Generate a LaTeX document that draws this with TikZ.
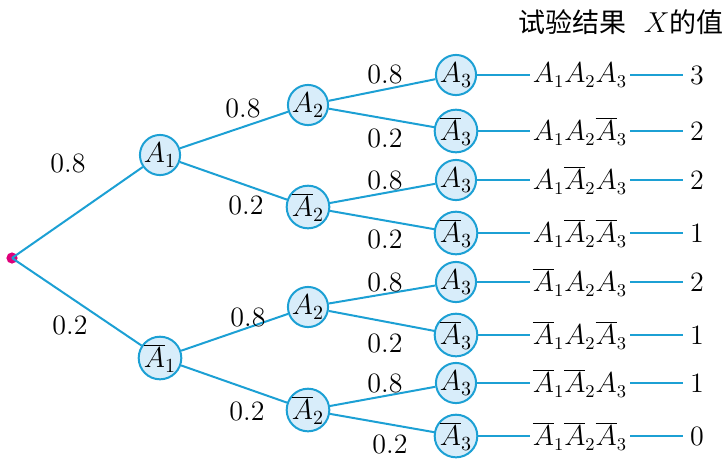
\documentclass[tikz,border=0pt]{standalone}
\usepackage{fontspec}
\newfontfamily\cjk{Noto Sans CJK SC}
\usepackage{tikz}
\usetikzlibrary{positioning}
\definecolor{treeblue}{RGB}{28,160,212}
\definecolor{nodefill}{RGB}{216,237,250}
\definecolor{rootdot}{RGB}{222,0,122}
\newcommand{\nA}[1]{\overline{A}_{#1}}

\begin{document}
\begin{tikzpicture}[
  x=0.5pt, y=-0.5pt,
  ev/.style={circle, draw=treeblue, fill=nodefill, line width=1pt,
             minimum size=20pt, inner sep=0pt, font=\fontsize{14}{16}\selectfont},
  br/.style={treeblue, line width=1pt},
  prob/.style={font=\fontsize{14}{16}\selectfont, inner sep=0pt},
  res/.style={inner xsep=1.5pt, font=\fontsize{13.5}{16}\selectfont},
  val/.style={font=\fontsize{14}{16}\selectfont},
  head/.style={font=\fontsize{13.5}{16}\selectfont}
]
\useasboundingbox (0,0) rectangle (726,462);

% root and events
\coordinate (r) at (12,258);
\fill[rootdot] (r) circle (2.8pt);
\node[ev] (a1) at (160,155) {$A_1$};
\node[ev] (b1) at (160,358) {$\nA1$};

\node[ev] (a1a2) at (308,105) {$A_2$};
\node[ev] (a1b2) at (308,207) {$\nA2$};
\node[ev] (b1a2) at (308,307) {$A_2$};
\node[ev] (b1b2) at (308,410) {$\nA2$};

\node[ev] (l1) at (456,75)  {$A_3$};
\node[ev] (l2) at (456,131) {$\nA3$};
\node[ev] (l3) at (456,180) {$A_3$};
\node[ev] (l4) at (456,233) {$\nA3$};
\node[ev] (l5) at (456,282) {$A_3$};
\node[ev] (l6) at (456,335) {$\nA3$};
\node[ev] (l7) at (456,383) {$A_3$};
\node[ev] (l8) at (456,436) {$\nA3$};

% branches
\draw[br] (r) -- (a1);
\draw[br] (r) -- (b1);
\draw[br] (a1) -- (a1a2);
\draw[br] (a1) -- (a1b2);
\draw[br] (b1) -- (b1a2);
\draw[br] (b1) -- (b1b2);
\draw[br] (a1a2) -- (l1);
\draw[br] (a1a2) -- (l2);
\draw[br] (a1b2) -- (l3);
\draw[br] (a1b2) -- (l4);
\draw[br] (b1a2) -- (l5);
\draw[br] (b1a2) -- (l6);
\draw[br] (b1b2) -- (l7);
\draw[br] (b1b2) -- (l8);

% probabilities
\node[prob] (p1) at (68,163) {0.8};
\node[prob] (p2) at (70,325) {0.2};
\node[prob] (p3) at (243,108) {0.8};
\node[prob] (p4) at (246,205) {0.2};
\node[prob] (p5) at (248,317) {0.8};
\node[prob] (p6) at (247,411) {0.2};
\node[prob] (p7) at (385,74)  {0.8};
\node[prob] (p8) at (385,138) {0.2};
\node[prob] (p9) at (385,180) {0.8};
\node[prob] (p10) at (385,239) {0.2};
\node[prob] (p11) at (385,282) {0.8};
\node[prob] (p12) at (385,343) {0.2};
\node[prob] (p13) at (385,383) {0.8};
\node[prob] (p14) at (390,444) {0.2};

% header
\node[head] (h1) at (572,22) {\cjk 试验结果};
\node[head, anchor=east, inner xsep=1pt] (h2) at (726,22) {$X$\cjk 的值};

% outcomes and values
\node[res] (o1) at (580,75)  {$A_1A_2A_3$};
\node[res] (o2) at (580,131) {$A_1A_2\nA3$};
\node[res] (o3) at (580,180) {$A_1\nA2A_3$};
\node[res] (o4) at (580,233) {$A_1\nA2\nA3$};
\node[res] (o5) at (580,282) {$\nA1A_2A_3$};
\node[res] (o6) at (580,335) {$\nA1A_2\nA3$};
\node[res] (o7) at (580,383) {$\nA1\nA2A_3$};
\node[res] (o8) at (580,436) {$\nA1\nA2\nA3$};

\node[val] (v1) at (697,75)  {3};
\node[val] (v2) at (697,131) {2};
\node[val] (v3) at (697,180) {2};
\node[val] (v4) at (697,233) {1};
\node[val] (v5) at (697,282) {2};
\node[val] (v6) at (697,335) {1};
\node[val] (v7) at (697,383) {1};
\node[val] (v8) at (697,436) {0};

\foreach \i in {1,...,8}{
  \draw[br] (l\i) -- (o\i);
  \draw[br] (o\i) -- (v\i);
}
\end{tikzpicture}
\end{document}
